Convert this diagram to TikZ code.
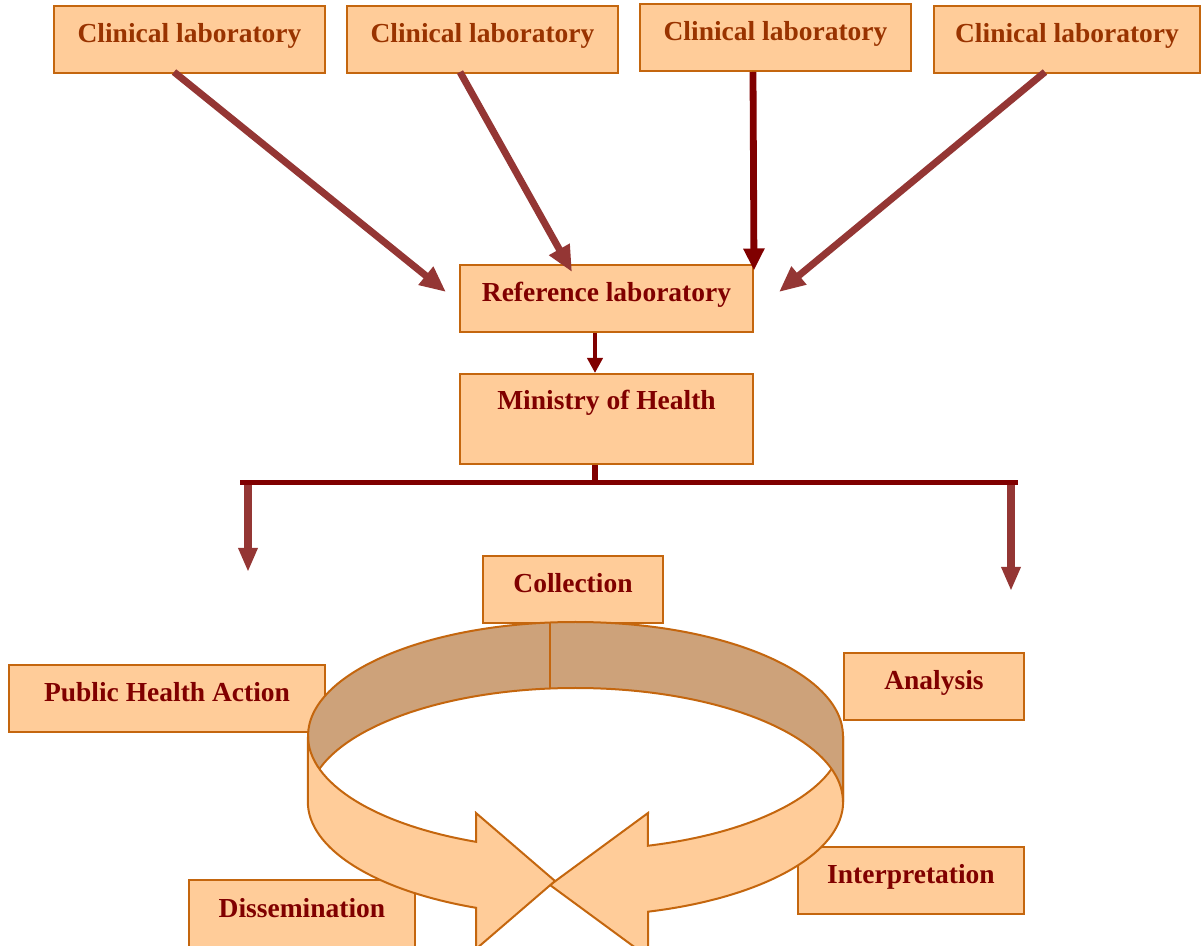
\documentclass[tikz,border=0pt]{standalone}
\usepackage{fontspec}
\setmainfont{Liberation Serif}
\usetikzlibrary{arrows.meta,calc}
\definecolor{boxfill}{RGB}{255,204,153}
\definecolor{boxline}{RGB}{196,102,14}
\definecolor{ringbrown}{RGB}{205,162,122}
\definecolor{arrbrown}{RGB}{148,54,52}
\definecolor{dred}{RGB}{128,0,0}
\definecolor{cltext}{RGB}{153,51,0}
\newcommand\labfont{\fontsize{13.75pt}{16pt}\selectfont\bfseries}
\tikzset{
  lab/.style={draw=boxline, fill=boxfill, line width=1pt, inner sep=0pt,
    font=\labfont, text=dred, text height=18.5pt, text depth=15pt},
  clin/.style={lab, text=cltext, minimum width=135.5pt},
  diagarr/.style={draw=arrbrown, line width=3.5pt, -{Triangle[length=13pt,width=11pt]}},
  vertarr/.style={draw=dred, line width=3.4pt, -{Triangle[length=11pt,width=10pt]}},
  smallarr/.style={draw=dred, line width=2.2pt, -{Triangle[length=7.5pt,width=7.5pt]}},
  downarr/.style={draw=arrbrown, line width=3.6pt, -{Triangle[length=12pt,width=9pt]}},
  barline/.style={draw=dred, line width=2.6pt},
  ringfront/.style={fill=boxfill, draw=boxline, line width=1pt, line join=miter},
  ringback/.style={fill=ringbrown, draw=boxline, line width=1pt},
  ell/.style={x radius=267.5, y radius=114}
}
\begin{document}
\begin{tikzpicture}[x=0.5pt, y=-0.5pt]
\useasboundingbox (0,0) rectangle (1201,946);
\clip (0,0) rectangle (1201,946);

% boxes
\node[clin] (c1) at (189.5,39.5) {Clinical laboratory};
\node[clin] (c2) at (482.5,39.5) {Clinical laboratory};
\node[clin] (c3) at (775.5,37.5) {Clinical laboratory};
\node[clin, minimum width=133pt] (c4) at (1067,39.5) {Clinical laboratory};
\node[lab, minimum width=146.5pt] (ref) at (606.5,298.5) {Reference laboratory};
\node[lab, minimum width=146.5pt, text height=18pt, text depth=27pt] (moh) at (606.5,419) {Ministry of Health};
\node[lab, minimum width=90pt] (col) at (573,589.5) {Collection};
\node[lab, minimum width=158pt] (pha) at (167,698.5) {Public Health Action};
\node[lab, minimum width=90pt] (ana) at (934,686.5) {Analysis};
\node[lab, minimum width=113pt] (int) at (911,880.5) {Interpretation};
\node[lab, minimum width=113pt, text depth=17.5pt] (dis) at (302,916) {Dissemination};

% arrows from clinical laboratories
\draw[diagarr] ($(c1.south)+(-15.5,-2)$) -- ($(ref.west)+(-13,-6.5)$);
\draw[diagarr] ($(c2.south)+(-22.5,-2)$) -- ($(ref.north)+(-34.5,8)$);
\draw[vertarr] ($(c3.south)+(-22.5,0)$) -- ($(ref.north east)+(0,6.5)$);
\draw[diagarr] ($(c4.south)+(-22,-2)$) -- ($(ref.east)+(25,-6.5)$);

% reference -> ministry
\draw[smallarr] ($(ref.south)+(-11.5,0)$) -- ($(moh.north)+(-11.5,0)$);

% distribution bar
\coordinate (barL) at (240,482.5);
\coordinate (barR) at (1018,482.5);
\coordinate (barM) at (595,482.5);
\coordinate (dlt) at (248,482.5);
\coordinate (drt) at (1011,482.5);
\coordinate (dl) at (248,572);
\coordinate (dr) at (1011,591);
\draw[downarr] (dlt) -- (dl);
\draw[downarr] (drt) -- (dr);
\draw[barline] ($(moh.south)+(-11.5,0)$) -- (barM);
\draw[barline] (barL) -- (barR);

% cycle ring: right arrow (behind)
\path[ringfront] (843,736) arc[start angle=0, end angle=74.3, ell]
  -- (648,813) -- (550,885) -- (648,957) -- (648,911.7)
  arc[start angle=74.3, end angle=0, x radius=267.5, y radius=114] -- cycle;
% back band
\path[ringback] (308,736) arc[start angle=180, end angle=360, ell]
  -- (843,802) arc[start angle=360, end angle=180, ell] -- cycle;
\draw[boxline, line width=1pt] (550,622.5) -- (550,688.5);
% left arrow (front)
\path[ringfront] (308,736) arc[start angle=180, end angle=111.8, ell]
  -- (476,813) -- (555,881) -- (476,949) -- (476,907.8)
  arc[start angle=111.8, end angle=180, ell] -- cycle;
\end{tikzpicture}
\end{document}
